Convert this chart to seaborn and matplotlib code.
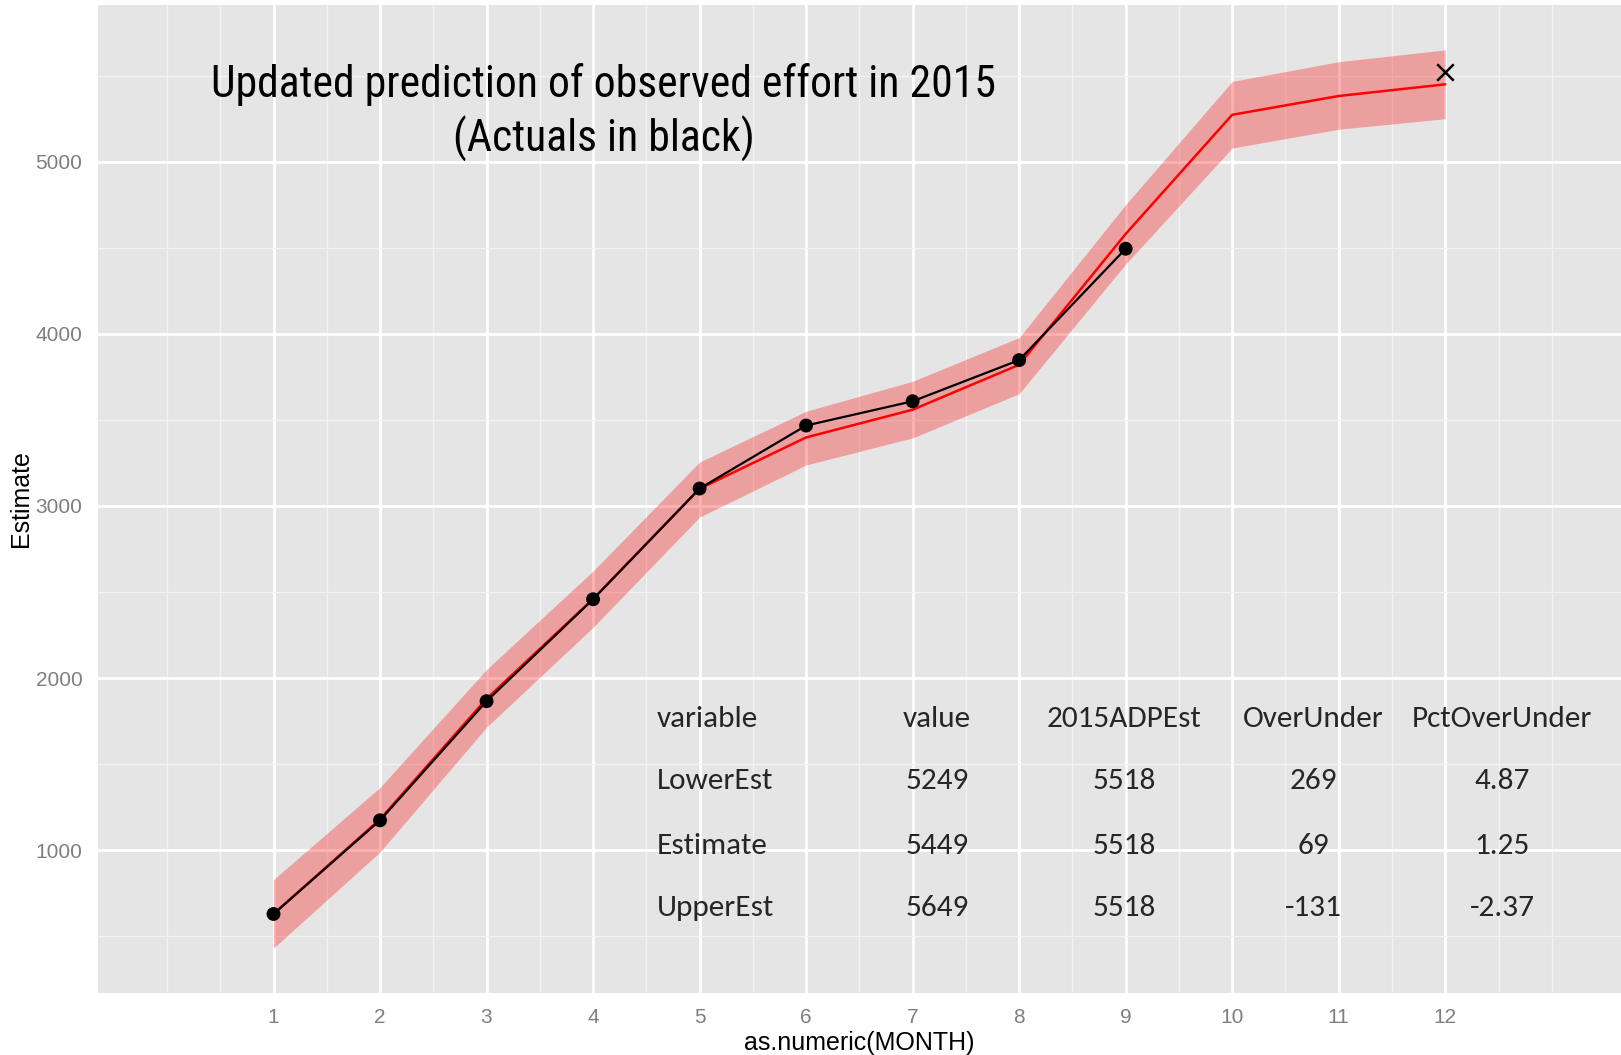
import numpy as np
import pandas as pd
import matplotlib
matplotlib.use("Agg")
import matplotlib.pyplot as plt
from matplotlib import font_manager
from matplotlib.ticker import FixedLocator
import seaborn as sns

# Monthly model estimate with its band, and the actual values so far
months = [1, 2, 3, 4, 5, 6, 7, 8, 9, 10, 11, 12]
estimate = [630, 1180, 1880, 2460, 3100, 3398, 3559, 3820, 4580, 5272, 5381, 5449]
lower_est = [432, 990, 1715, 2295, 2935, 3238, 3395, 3652, 4405, 5079, 5188, 5249]
upper_est = [830, 1365, 2050, 2622, 3255, 3550, 3724, 3978, 4750, 5466, 5580, 5649]

actual_months = [1, 2, 3, 4, 5, 6, 7, 8, 9]
actuals = [630, 1174, 1866, 2458, 3101, 3467, 3608, 3847, 4494]

adp_month = [12]
adp_est = [5518]

# Summary table shown on the plot
tbl_header = ["variable", "value", "2015ADPEst", "OverUnder", "PctOverUnder"]
tbl_variable = ["LowerEst", "Estimate", "UpperEst"]
tbl_value = ["5249", "5449", "5649"]
tbl_adp = ["5518", "5518", "5518"]
tbl_overunder = ["269", "69", "-131"]
tbl_pct = ["4.87", "1.25", "-2.37"]

title_lines = ["Updated prediction of observed effort in 2015", "(Actuals in black)"]


def pick_font(options):
    names = {f.name for f in font_manager.fontManager.ttflist}
    for name in options:
        if name in names:
            return name
    return "DejaVu Sans"


sns.set_theme(style="darkgrid", rc={
    "axes.facecolor": "#E5E5E5",
    "grid.color": "white",
    "axes.edgecolor": "#E5E5E5",
})
axis_font = pick_font(["Liberation Sans", "Arimo", "DejaVu Sans"])
title_font = pick_font(["Liberation Sans Narrow", "Roboto Condensed", "Open Sans Condensed", "Liberation Sans"])
table_font = pick_font(["Carlito", "Lato", "Open Sans"])
plt.rcParams["font.family"] = [axis_font, "DejaVu Sans"]

df = pd.DataFrame({"month": months, "estimate": estimate,
                   "lower": lower_est, "upper": upper_est})
act = pd.DataFrame({"month": actual_months, "actual": actuals})

fig = plt.figure(figsize=(16.21, 10.55), dpi=100)
ax = fig.add_axes([0.0603, 0.0588, 0.9397, 0.9365])

ax.fill_between(df["month"], df["lower"], df["upper"], color="red", alpha=0.3,
                linewidth=0, zorder=2)
sns.lineplot(data=df, x="month", y="estimate", color="red", linewidth=1.8, ax=ax, zorder=3)
sns.lineplot(data=act, x="month", y="actual", color="black", linewidth=1.6, ax=ax, zorder=4)
sns.scatterplot(data=act, x="month", y="actual", color="black", s=100, edgecolor="none",
                ax=ax, zorder=5)
sns.scatterplot(x=adp_month, y=adp_est, marker="x", color="black", s=140, linewidth=1.8,
                ax=ax, zorder=5)

# ggplot-like expansion of the ranges
x_lo, x_hi = 0, 13
ax.set_xlim(x_lo - 0.05 * (x_hi - x_lo), x_hi + 0.05 * (x_hi - x_lo))
y_lo, y_hi = min(lower_est), max(upper_est)
ax.set_ylim(y_lo - 0.05 * (y_hi - y_lo), y_hi + 0.05 * (y_hi - y_lo))

ax.set_xticks(months)
ax.set_yticks([1000, 2000, 3000, 4000, 5000])
ax.xaxis.set_minor_locator(FixedLocator(np.arange(0, 13.01, 0.5)))
ax.yaxis.set_minor_locator(FixedLocator([500, 1500, 2500, 3500, 4500, 5500]))
ax.grid(which="major", color="white", linewidth=2.0)
ax.grid(which="minor", color="#F2F2F2", linewidth=1.0)
ax.tick_params(which="major", length=6, width=1.5, color="#7F7F7F",
               labelcolor="#7F7F7F", labelsize=15, pad=5)
ax.tick_params(which="minor", length=0)
ax.tick_params(axis="y", pad=5)
for s in ax.spines.values():
    s.set_visible(False)

ax.set_xlabel("as.numeric(MONTH)", fontsize=18, color="black", labelpad=3)
ax.set_ylabel("Estimate", fontsize=18, color="black", labelpad=2)

ax.text(0.332, 0.891, "\n".join(title_lines), transform=ax.transAxes,
        ha="center", va="center", fontsize=31.5, family=[title_font, "DejaVu Sans"],
        color="black", linespacing=1.27, zorder=6)

# table text
col_x = [0.367, 0.551, 0.674, 0.798, 0.922]
row_y = [0.277, 0.215, 0.149, 0.086]
columns = [tbl_variable, tbl_value, tbl_adp, tbl_overunder, tbl_pct]
for j, head in enumerate(tbl_header):
    ha = "left" if j == 0 else "center"
    ax.text(col_x[j], row_y[0], head, transform=ax.transAxes, ha=ha, va="center",
            fontsize=22.5, family=[table_font, "DejaVu Sans"], zorder=6)
    for i, val in enumerate(columns[j]):
        ax.text(col_x[j], row_y[i + 1], val, transform=ax.transAxes, ha=ha, va="center",
                fontsize=22.5, family=[table_font, "DejaVu Sans"], zorder=6)

fig.savefig("out.png", dpi=100, facecolor="white")
